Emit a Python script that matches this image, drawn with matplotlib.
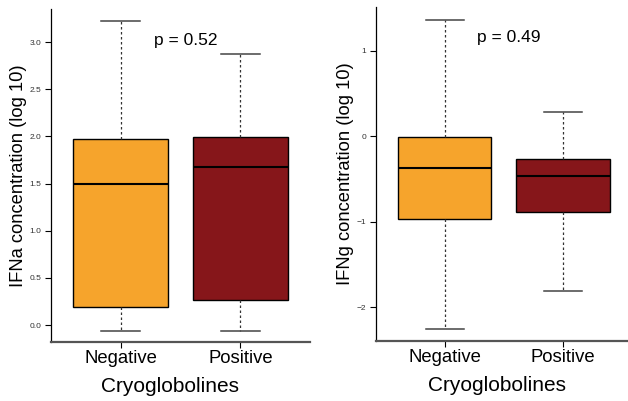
import matplotlib
matplotlib.use('Agg')
import matplotlib.pyplot as plt

plt.rcParams['font.family'] = ['Liberation Sans', 'DejaVu Sans']

# groups and box statistics (log 10 values)
groups = ['Negative', 'Positive']
colors = ['#F6A42C', '#86161A']

ifna_low = [-0.06, -0.06]
ifna_q1 = [0.19, 0.27]
ifna_med = [1.50, 1.67]
ifna_q3 = [1.97, 1.99]
ifna_high = [3.22, 2.87]
ifna_p = 'p = 0.52'

ifng_low = [-2.25, -1.81]
ifng_q1 = [-0.965, -0.88]
ifng_med = [-0.375, -0.465]
ifng_q3 = [-0.01, -0.27]
ifng_high = [1.36, 0.28]
ifng_p = 'p = 0.49'


def make_stats(low, q1, med, q3, high):
    return [dict(whislo=low[i], q1=q1[i], med=med[i], q3=q3[i], whishi=high[i], fliers=[])
            for i in range(len(low))]


def draw(ax, stats, ylabel, yticks, yticklabels, ylim, ptext, pxy, xlim, xlab_x):
    bp = ax.bxp(stats, positions=[1, 2], widths=0.79, patch_artist=True, showfliers=False,
                boxprops=dict(edgecolor='black', linewidth=1.0),
                medianprops=dict(color='black', linewidth=1.5),
                whiskerprops=dict(color='#333333', linewidth=0.9, linestyle=(0, (2, 2))),
                capprops=dict(color='#444444', linewidth=1.1),
                capwidths=0.32)
    for patch, c in zip(bp['boxes'], colors):
        patch.set_facecolor(c)
    ax.set_xlim(*xlim)
    ax.set_ylim(*ylim)
    ax.set_xticks([1, 2])
    ax.set_xticklabels(groups, fontsize=13.3)
    ax.set_yticks(yticks)
    ax.set_yticklabels(yticklabels, fontsize=6, color='#333333')
    ax.tick_params(axis='y', length=4, width=0.8, pad=3)
    ax.tick_params(axis='x', length=4, width=0.8, pad=2)
    ax.spines['top'].set_visible(False)
    ax.spines['right'].set_visible(False)
    ax.spines['left'].set_linewidth(0.9)
    ax.spines['bottom'].set_linewidth(1.6)
    ax.spines['bottom'].set_color('#555555')
    ax.set_ylabel(ylabel, fontsize=13.2, labelpad=2)
    ax.set_xlabel('Cryoglobolines', fontsize=15)
    ax.xaxis.set_label_coords(xlab_x, -0.105)
    ax.text(pxy[0], pxy[1], ptext, fontsize=12.5, ha='center', va='center')


fig = plt.figure(figsize=(6.28, 4.01), dpi=100)
ax1 = fig.add_axes([0.0812, 0.147, 0.4124, 0.8306])
ax2 = fig.add_axes([0.5987, 0.150, 0.4013, 0.8325])

draw(ax1, make_stats(ifna_low, ifna_q1, ifna_med, ifna_q3, ifna_high),
     'IFNa concentration (log 10)',
     [0.0, 0.5, 1.0, 1.5, 2.0, 2.5, 3.0], ['0.0', '0.5', '1.0', '1.5', '2.0', '2.5', '3.0'],
     (-0.18, 3.35), ifna_p, (1.54, 3.02), (0.42, 2.58), 0.46)

draw(ax2, make_stats(ifng_low, ifng_q1, ifng_med, ifng_q3, ifng_high),
     'IFNg concentration (log 10)',
     [-2, -1, 0, 1], ['\u22122', '\u22121', '0', '1'],
     (-2.39, 1.51), ifng_p, (1.54, 1.15), (0.42, 2.55), 0.482)

fig.savefig('out.png', dpi=100)
